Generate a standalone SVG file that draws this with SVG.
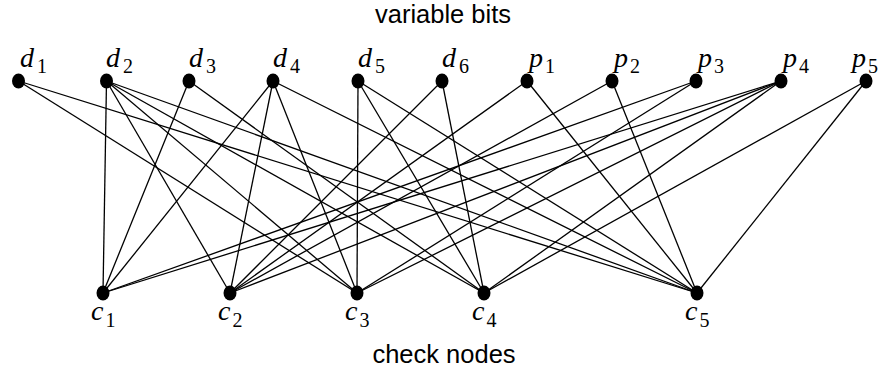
<svg xmlns="http://www.w3.org/2000/svg" width="879" height="374" viewBox="0 0 879 374">
<style>
.e{stroke:#000;stroke-width:1.3;fill:none}
.n{fill:#000}
.lb{font-family:"Liberation Serif","Times New Roman",serif;font-style:italic;font-size:28px;fill:#000}
.sb{font-family:"Liberation Serif","Times New Roman",serif;font-style:normal;font-size:20px;fill:#000}
.t{font-family:"Liberation Sans",Arial,sans-serif;font-size:25.5px;fill:#000}
</style>
<rect width="879" height="374" fill="#fff"/>
<text class="t" x="443" y="23" text-anchor="middle">variable bits</text>
<text class="t" x="444" y="363" text-anchor="middle">check nodes</text>
<g id="edges">
<line class="e" x1="18.5" y1="81" x2="357" y2="293"/>
<line class="e" x1="18.5" y1="81" x2="697" y2="293"/>
<line class="e" x1="106.5" y1="81" x2="103" y2="293"/>
<line class="e" x1="106.5" y1="81" x2="230" y2="293"/>
<line class="e" x1="106.5" y1="81" x2="357" y2="293"/>
<line class="e" x1="106.5" y1="81" x2="484" y2="293"/>
<line class="e" x1="106.5" y1="81" x2="697" y2="293"/>
<line class="e" x1="189" y1="81" x2="103" y2="293"/>
<line class="e" x1="189" y1="81" x2="484" y2="293"/>
<line class="e" x1="273" y1="81" x2="103" y2="293"/>
<line class="e" x1="273" y1="81" x2="230" y2="293"/>
<line class="e" x1="273" y1="81" x2="357" y2="293"/>
<line class="e" x1="273" y1="81" x2="697" y2="293"/>
<line class="e" x1="358" y1="81" x2="357" y2="293"/>
<line class="e" x1="358" y1="81" x2="484" y2="293"/>
<line class="e" x1="358" y1="81" x2="697" y2="293"/>
<line class="e" x1="442" y1="81" x2="230" y2="293"/>
<line class="e" x1="442" y1="81" x2="484" y2="293"/>
<line class="e" x1="527" y1="81" x2="230" y2="293"/>
<line class="e" x1="527" y1="81" x2="697" y2="293"/>
<line class="e" x1="612" y1="81" x2="230" y2="293"/>
<line class="e" x1="612" y1="81" x2="697" y2="293"/>
<line class="e" x1="696" y1="81" x2="103" y2="293"/>
<line class="e" x1="696" y1="81" x2="357" y2="293"/>
<line class="e" x1="781" y1="81" x2="103" y2="293"/>
<line class="e" x1="781" y1="81" x2="230" y2="293"/>
<line class="e" x1="781" y1="81" x2="357" y2="293"/>
<line class="e" x1="781" y1="81" x2="484" y2="293"/>
<line class="e" x1="866" y1="81" x2="484" y2="293"/>
<line class="e" x1="866" y1="81" x2="697" y2="293"/>
</g>
<g id="d1"><ellipse class="n" cx="18.5" cy="81" rx="6.5" ry="7.5"/><text class="lb" x="20" y="67">d<tspan class="sb" dx="3" dy="6">1</tspan></text></g>
<g id="d2"><ellipse class="n" cx="106.5" cy="81" rx="6.5" ry="7.5"/><text class="lb" x="106" y="67">d<tspan class="sb" dx="3" dy="6">2</tspan></text></g>
<g id="d3"><ellipse class="n" cx="189" cy="81" rx="6.5" ry="7.5"/><text class="lb" x="189" y="67">d<tspan class="sb" dx="3" dy="6">3</tspan></text></g>
<g id="d4"><ellipse class="n" cx="273" cy="81" rx="6.5" ry="7.5"/><text class="lb" x="273" y="67">d<tspan class="sb" dx="3" dy="6">4</tspan></text></g>
<g id="d5"><ellipse class="n" cx="358" cy="81" rx="6.5" ry="7.5"/><text class="lb" x="358" y="67">d<tspan class="sb" dx="3" dy="6">5</tspan></text></g>
<g id="d6"><ellipse class="n" cx="442" cy="81" rx="6.5" ry="7.5"/><text class="lb" x="442" y="67">d<tspan class="sb" dx="3" dy="6">6</tspan></text></g>
<g id="p1"><ellipse class="n" cx="527" cy="81" rx="6.5" ry="7.5"/><text class="lb" x="529" y="67">p<tspan class="sb" dx="2" dy="6">1</tspan></text></g>
<g id="p2"><ellipse class="n" cx="612" cy="81" rx="6.5" ry="7.5"/><text class="lb" x="614" y="67">p<tspan class="sb" dx="2" dy="6">2</tspan></text></g>
<g id="p3"><ellipse class="n" cx="696" cy="81" rx="6.5" ry="7.5"/><text class="lb" x="698" y="67">p<tspan class="sb" dx="2" dy="6">3</tspan></text></g>
<g id="p4"><ellipse class="n" cx="781" cy="81" rx="6.5" ry="7.5"/><text class="lb" x="783" y="67">p<tspan class="sb" dx="2" dy="6">4</tspan></text></g>
<g id="p5"><ellipse class="n" cx="866" cy="81" rx="6.5" ry="7.5"/><text class="lb" x="852" y="67">p<tspan class="sb" dx="2" dy="6">5</tspan></text></g>
<g id="c1"><ellipse class="n" cx="103" cy="293" rx="6.5" ry="7.5"/><text class="lb" x="91" y="320">c<tspan class="sb" dx="2" dy="7">1</tspan></text></g>
<g id="c2"><ellipse class="n" cx="230" cy="293" rx="6.5" ry="7.5"/><text class="lb" x="218" y="320">c<tspan class="sb" dx="2" dy="7">2</tspan></text></g>
<g id="c3"><ellipse class="n" cx="357" cy="293" rx="6.5" ry="7.5"/><text class="lb" x="345" y="320">c<tspan class="sb" dx="2" dy="7">3</tspan></text></g>
<g id="c4"><ellipse class="n" cx="484" cy="293" rx="6.5" ry="7.5"/><text class="lb" x="472" y="320">c<tspan class="sb" dx="2" dy="7">4</tspan></text></g>
<g id="c5"><ellipse class="n" cx="697" cy="293" rx="6.5" ry="7.5"/><text class="lb" x="685" y="320">c<tspan class="sb" dx="2" dy="7">5</tspan></text></g>
</svg>
